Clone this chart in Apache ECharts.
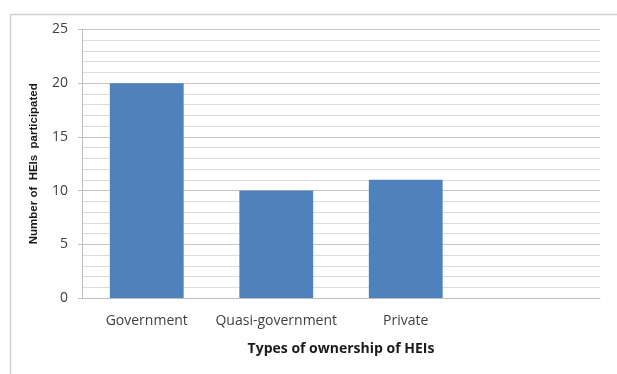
<!DOCTYPE html>
<html><head><meta charset="utf-8">
<script src="https://cdn.jsdelivr.net/npm/echarts@6/dist/echarts.min.js"></script>
<style>html,body{margin:0;padding:0;background:#fff}#c{width:617px;height:374px}</style>
</head><body><div id="c"></div>
<script>
var categories = ['Government', 'Quasi-government', 'Private', ''];
var values = [20, 10, 11, null];
var yTicks = [0, 5, 10, 15, 20, 25];

var chart = echarts.init(document.getElementById('c'), null, {renderer: 'canvas'});
chart.setOption({
  animation: false,
  backgroundColor: '#fff',
  graphic: [{
    type: 'rect', left: 8, top: 12, shape: {width: 640, height: 400},
    style: {fill: 'none', stroke: '#d0d0d0', lineWidth: 1.5}, silent: true
  }],
  grid: {left: 82, top: 29.5, right: 17, bottom: 76, containLabel: false},
  xAxis: {
    type: 'category', data: categories,
    name: 'Types of ownership of HEIs', nameLocation: 'middle', nameGap: 44,
    nameTextStyle: {fontFamily: 'Open Sans', fontWeight: 'bold', fontSize: 14, color: '#1a1a1a'},
    axisLine: {show: true, lineStyle: {color: '#bfbfbf', width: 1}},
    axisTick: {show: false},
    axisLabel: {fontFamily: 'Open Sans', fontSize: 14, color: '#404040', margin: 16, interval: 0}
  },
  yAxis: {
    type: 'value', min: yTicks[0], max: yTicks[yTicks.length - 1], interval: 5,
    name: 'Number of  HEIs  participated', nameLocation: 'middle', nameGap: 42, nameRotate: 90,
    nameTextStyle: {fontFamily: 'Liberation Sans', fontWeight: 'bold', fontSize: 11.5, color: '#1a1a1a'},
    axisLine: {show: true, lineStyle: {color: '#bfbfbf', width: 1}},
    axisTick: {show: true, length: 4, lineStyle: {color: '#bfbfbf'}},
    axisLabel: {fontFamily: 'Open Sans', fontSize: 14, color: '#404040', margin: 14},
    splitLine: {show: true, lineStyle: {color: '#c4c4c4', width: 1}},
    minorTick: {show: false, splitNumber: 5},
    minorSplitLine: {show: true, lineStyle: {color: '#dcdcdc', width: 1}}
  },
  series: [{
    type: 'bar', data: values, barWidth: '57%',
    itemStyle: {color: '#4f81bd'}
  }]
});
</script></body></html>
